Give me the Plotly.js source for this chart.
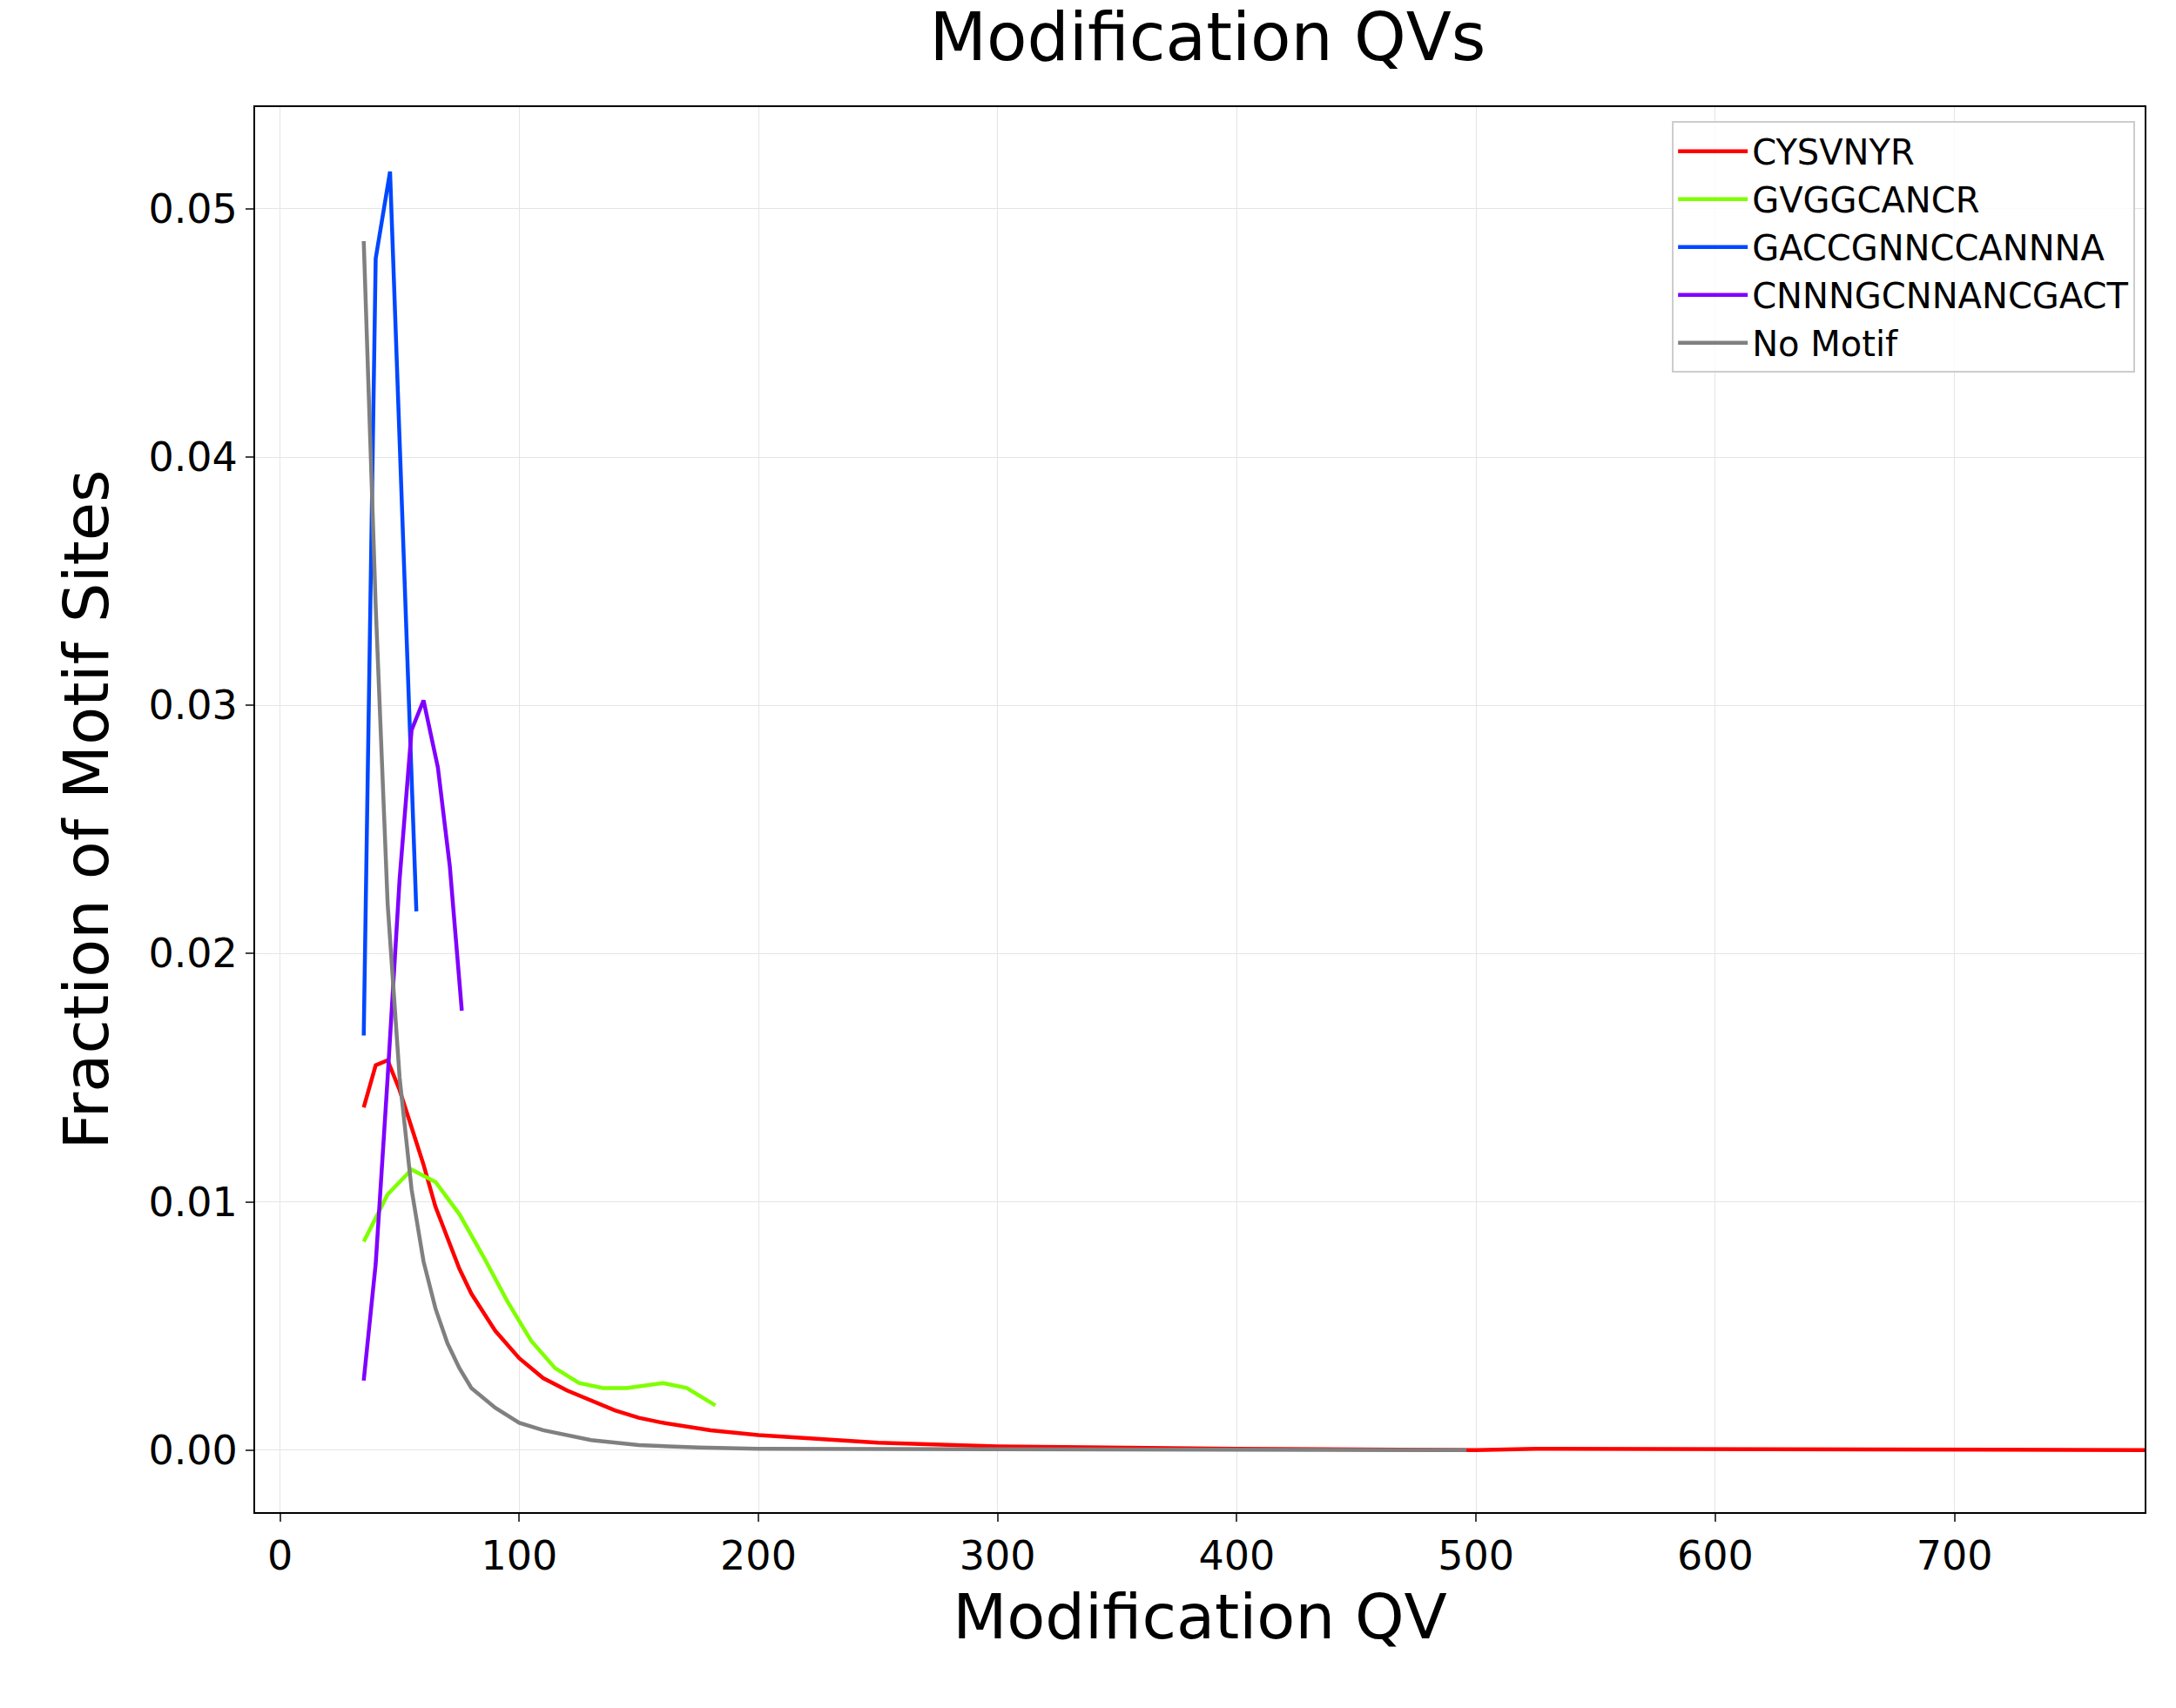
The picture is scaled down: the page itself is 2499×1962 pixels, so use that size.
<html><head><script src="https://cdn.plot.ly/plotly-3.0.1.min.js"></script></head><body style="margin:0">
<div id="c" style="width:2499px;height:1962px"></div>
<script>
const cysX=[35,40,45,50,55,60,65,70,75,80,90,100,110,120,130,140,150,160,180,200,250,300,400,500,525,600,700,780];
const cysY=[0.0138,0.0155,0.0157,0.0145,0.013,0.0115,0.0098,0.0085,0.0073,0.0063,0.0048,0.0037,0.0029,0.0024,0.002,0.0016,0.0013,0.0011,0.0008,0.0006,0.0003,0.00015,0.00005,0,0.00005,0.00003,0,0];
const gvgX=[35,45,55,65,75,85,95,105,115,125,135,145,160,170,182];
const gvgY=[0.0084,0.0103,0.0113,0.0108,0.0095,0.0078,0.006,0.0044,0.0033,0.0027,0.0025,0.0025,0.0027,0.0025,0.0018];
const gacX=[35,40,46,57];
const gacY=[0.0167,0.048,0.0515,0.0217];
const cnnX=[35,40,45,50,55,60,66,71,76];
const cnnY=[0.0028,0.0075,0.015,0.023,0.029,0.0302,0.0275,0.0235,0.0177];
const noX=[35,40,45,50,55,60,65,70,75,80,90,100,110,120,130,150,175,200,300,496];
const noY=[0.0487,0.034,0.022,0.015,0.0105,0.0076,0.0057,0.0043,0.0033,0.0025,0.0017,0.0011,0.0008,0.0006,0.0004,0.0002,0.0001,0.00005,0.00002,0];
const names=['CYSVNYR','GVGGCANCR','GACCGNNCCANNNA','CNNNGCNNANCGACT','No Motif'];
const colors=['#ff0000','#7fff00','#0047ff','#7f00ff','#808080'];
const xs=[cysX,gvgX,gacX,cnnX,noX], ys=[cysY,gvgY,gacY,cnnY,noY];
const traces=names.map((n,i)=>({x:xs[i],y:ys[i],name:n,mode:'lines',line:{color:colors[i],width:4.5}}));
const ax={showline:true,mirror:true,linecolor:'black',linewidth:2,ticks:'outside',ticklen:9,tickwidth:2,gridcolor:'#e5e5e5',zeroline:false,tickfont:{size:46,color:'black'}};
Plotly.newPlot('c',traces,{
 width:2499,height:1962,paper_bgcolor:'white',plot_bgcolor:'white',
 font:{family:'DejaVu Sans',color:'black'},
 margin:{l:293,r:36,t:123,b:225},
 title:{text:'Modification QVs',font:{size:76},x:0.555,y:0.992,yanchor:'top'},
 xaxis:Object.assign({},ax,{range:[-10.4,779.5],dtick:100,title:{text:'Modification QV',font:{size:72},standoff:18}}),
 yaxis:Object.assign({},ax,{range:[-0.0025,0.0541],dtick:0.01,tickformat:'.2f',title:{text:'Fraction of Motif Sites',font:{size:72},standoff:22}}),
 legend:{x:0.995,y:0.99,xanchor:'right',yanchor:'top',bordercolor:'#cccccc',borderwidth:2,font:{size:40},itemwidth:80,tracegroupgap:0,bgcolor:'rgba(255,255,255,0.8)'},
 showlegend:true
},{displayModeBar:false});
</script></body></html>
